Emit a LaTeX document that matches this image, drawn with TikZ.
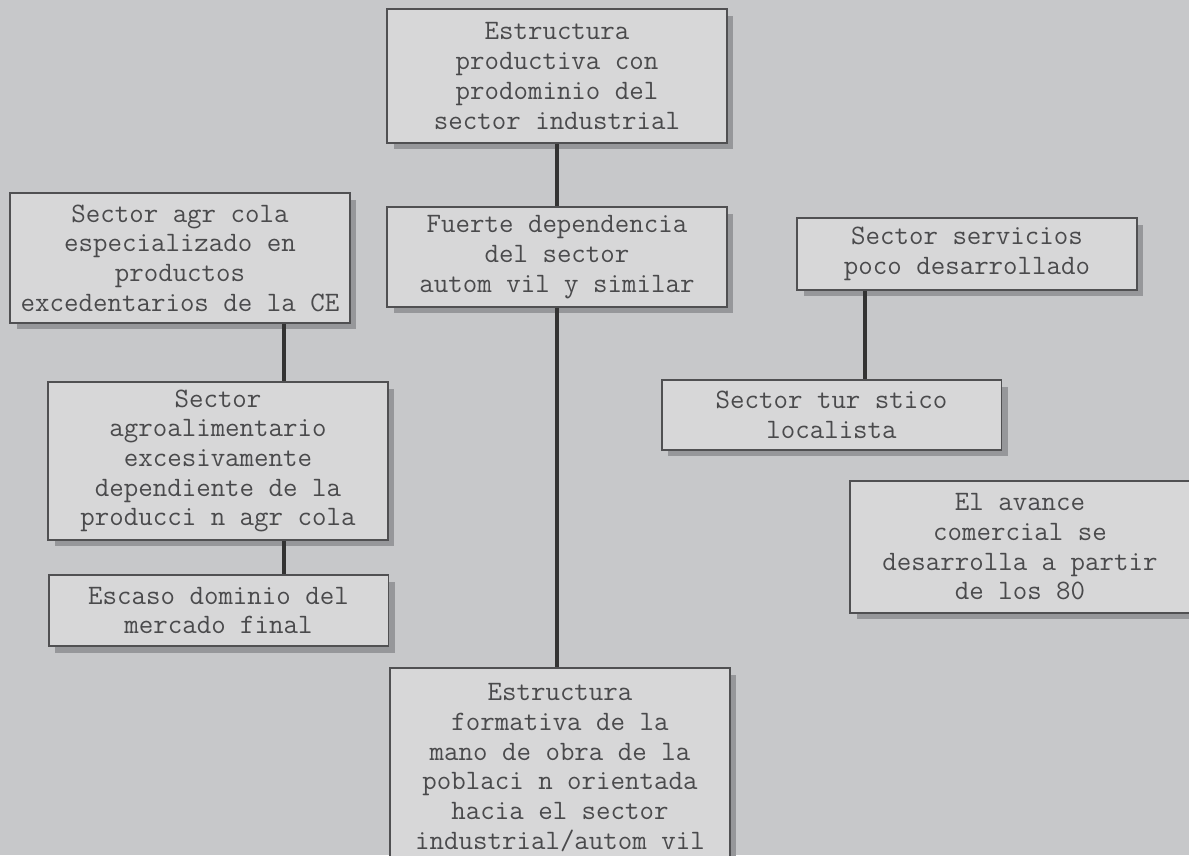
\documentclass[tikz,border=0pt]{standalone}
\usetikzlibrary{calc,positioning,shadows}
\definecolor{paper}{RGB}{199,200,202}
\definecolor{boxfill}{RGB}{215,215,216}
\definecolor{boxline}{RGB}{80,80,82}
\definecolor{shade}{RGB}{150,151,154}
\definecolor{ink}{RGB}{74,74,76}
\tikzset{
    box/.style={draw=boxline, line width=1.1pt, fill=boxfill, minimum width=6.8cm,
    align=center, text=ink, inner sep=2pt,
    font=\fontsize{16}{16.9}\selectfont\ttfamily,
    drop shadow={shadow xshift=0.13cm, shadow yshift=-0.13cm, fill=shade, opacity=1}},
    link/.style={draw=black!80, line width=2.8pt}
}
\begin{document}
\begin{tikzpicture}[x=0.02cm, y=-0.02cm]
    \useasboundingbox (0,0) rectangle (1189,855);
    \clip (0,0) rectangle (1189,855);
    \fill[paper] (0,0) rectangle (1189,855);
    \coordinate (lspine) at (284,0);
    \coordinate (rspine) at (865,0);
    \node [box, minimum height=2.68cm] (estr) at (557,76) {Estructura\\productiva con\\prodominio del\\sector industrial};
    \node [box, minimum height=2cm] (fuerte) at (557,257) {Fuerte dependencia\\del sector\\autom vil y similar};
    \node [box, minimum height=2.6cm] (agri) at (180,258) {Sector agr cola\\especializado en\\productos\\excedentarios de la CE};
    \node [box, minimum height=3.16cm] (agro) at (218,461) {Sector\\agroalimentario\\excesivamente\\dependiente de la\\producci n agr cola};
    \node [box, minimum height=1.42cm] (escaso) at (218.5,610.5) {Escaso dominio del\\mercado final};
    \node [box, minimum height=1.44cm] (serv) at (967,254) {Sector servicios\\poco desarrollado};
    \node [box, minimum height=1.4cm] (turis) at (831.5,415) {Sector tur stico\\localista};
    \node [box, minimum height=2.64cm] (avance) at (1020,547) {El avance\\comercial se\\desarrolla a partir\\de los 80};
    \node [box, minimum height=3.98cm] (formac) at (560,767.5) {Estructura\\formativa de la\\mano de obra de la\\poblaci n orientada\\hacia el sector\\industrial/autom vil};
    \draw [link] (estr.south) -- (fuerte.north);
    \draw [link] (fuerte.south) -- (fuerte.south |- formac.north);
    \draw [link] (agri.south -| lspine) -- (agro.north -| lspine);
    \draw [link] (agro.south -| lspine) -- (escaso.north -| lspine);
    \draw [link] (serv.south -| rspine) -- (turis.north -| rspine);
\end{tikzpicture}
\end{document}
